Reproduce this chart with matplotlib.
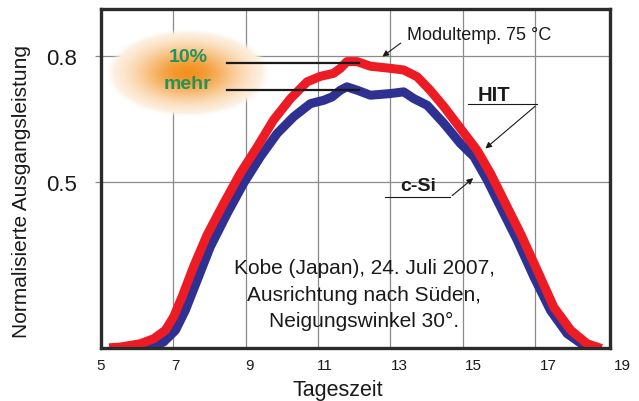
import numpy as np
import matplotlib
matplotlib.use('Agg')
import matplotlib.pyplot as plt

plt.rcParams['font.family'] = ['Liberation Sans', 'DejaVu Sans']

# Werte
hit_x = [5.35, 5.53, 6.09, 6.46, 6.78, 7.01, 7.24, 7.56, 7.93, 8.39, 8.85, 9.32, 9.77,
         10.24, 10.70, 11.07, 11.43, 11.62, 11.80, 12.08, 12.45, 13.00, 13.37, 13.74,
         14.10, 14.48, 14.94, 15.40, 15.77, 16.14, 16.60, 17.06, 17.52, 17.99, 18.44,
         18.72]
hit_y = [0.106, 0.107, 0.115, 0.127, 0.147, 0.179, 0.226, 0.298, 0.373, 0.448, 0.520,
         0.583, 0.647, 0.698, 0.738, 0.751, 0.758, 0.770, 0.786, 0.786, 0.775, 0.770,
         0.766, 0.750, 0.718, 0.679, 0.627, 0.575, 0.520, 0.456, 0.377, 0.290, 0.202,
         0.147, 0.115, 0.107]

csi_x = [6.0, 6.36, 6.73, 7.06, 7.33, 7.66, 8.02, 8.49, 8.94, 9.41, 9.87, 10.33, 10.79,
         11.16, 11.39, 11.62, 11.80, 12.08, 12.45, 13.00, 13.37, 13.65, 14.02, 14.48,
         14.94, 15.31, 15.68, 16.05, 16.51, 16.97, 17.43, 17.89, 18.35]
csi_y = [0.106, 0.107, 0.119, 0.147, 0.194, 0.266, 0.345, 0.425, 0.496, 0.560, 0.615,
         0.655, 0.686, 0.694, 0.702, 0.718, 0.726, 0.718, 0.706, 0.710, 0.714, 0.698,
         0.682, 0.639, 0.591, 0.560, 0.504, 0.440, 0.361, 0.274, 0.194, 0.139, 0.111]

hours = [5, 7, 9, 11, 13, 15, 17, 19]
grid_hours = [7, 9, 11, 13, 15, 17]
y_ticks = [0.5, 0.8]
hit_peak = 0.782
csi_peak = 0.718

red = '#ed1c24'
blue = '#2e3192'
green = '#23935a'
txt = '#1a1a1a'

fig = plt.figure(figsize=(6.39, 4.02), dpi=100)
ax = fig.add_axes([0.158, 0.132, 0.797, 0.842])
ax.set_xlim(5, 19.08)
ax.set_ylim(0.105, 0.91)

# Gitter
for h in grid_hours:
    ax.axvline(h, color='#8a8a8a', lw=0.9, zorder=1)
for v in y_ticks:
    ax.axhline(v, color='#8a8a8a', lw=0.9, zorder=1)

# orange Wolke "10% mehr"
nx, ny = 300, 160
gx, gy = np.meshgrid(np.linspace(-1, 1, nx), np.linspace(-1, 1, ny))
r = np.sqrt(gx**2 + gy**2)
f = np.exp(-2.4 * r**2)
orange = np.array([0.95, 0.57, 0.13])
img = np.ones((ny, nx, 4))
for k in range(3):
    img[:, :, k] = 1 - f * (1 - orange[k])
img[:, :, 3] = np.clip((1 - r) * 10, 0, 1)
ax.imshow(img, extent=(5.14, 9.67, 0.655, 0.862), aspect='auto', zorder=2,
          interpolation='bilinear')
ax.text(7.4, 0.797, '10%', color=green, fontsize=14, fontweight='bold',
        ha='center', va='center', zorder=3)
ax.text(7.4, 0.734, 'mehr', color=green, fontsize=14, fontweight='bold',
        ha='center', va='center', zorder=3)

# Kurven
ax.plot(csi_x, csi_y, color=blue, lw=6.5, solid_joinstyle='round', zorder=4)
ax.plot(hit_x, hit_y, color=red, lw=6.5, solid_joinstyle='round', zorder=5)

# Referenzlinien der Maxima
ax.plot([8.49, 12.14], [hit_peak, hit_peak], color=txt, lw=1.6, zorder=6)
ax.plot([8.49, 12.14], [csi_peak, csi_peak], color=txt, lw=1.6, zorder=6)

arrow = dict(arrowstyle='-|>', color=txt, lw=0.8, mutation_scale=9)
ax.text(13.47, 0.851, 'Modultemp. 75 °C', fontsize=13, color=txt, va='center')
ax.annotate('', xy=(12.72, 0.794), xytext=(13.35, 0.834), arrowprops=arrow, zorder=6)

ax.text(15.87, 0.707, 'HIT', fontsize=14.5, fontweight='bold', color=txt,
        ha='center', va='center')
ax.plot([15.15, 17.06], [0.684, 0.684], color=txt, lw=0.8)
ax.annotate('', xy=(15.57, 0.575), xytext=(17.06, 0.684), arrowprops=arrow, zorder=6)

ax.text(13.77, 0.491, 'c-Si', fontsize=14, fontweight='bold', color=txt,
        ha='center', va='center')
ax.plot([12.86, 14.65], [0.463, 0.463], color=txt, lw=0.8)
ax.annotate('', xy=(15.35, 0.513), xytext=(14.65, 0.463), arrowprops=arrow, zorder=6)

ax.text(12.28, 0.233, 'Kobe (Japan), 24. Juli 2007,\nAusrichtung nach Süden,\nNeigungswinkel 30°.',
        fontsize=15, color=txt, ha='center', va='center', linespacing=1.5, zorder=6)

# Achsen
for s in ax.spines.values():
    s.set_linewidth(2.4)
    s.set_color('#2b2b2b')
    s.set_zorder(7)

# Beschriftungen der x-Achse liegen im Original leicht gestreckt (19 rechts ausserhalb)
ax.set_xticks([])
for h in hours:
    ax.text(5 + (h - 5) * 1.03, -0.05, str(h), fontsize=11, color=txt, ha='center',
            va='center', transform=ax.get_xaxis_transform(), clip_on=False)
ax.set_yticks(y_ticks)
ax.set_yticklabels(['0.5', '0.8'], fontsize=16, color=txt)
ax.tick_params(axis='y', length=4, width=0.9, color='#8a8a8a', pad=13)

fig.text(338 / 639, 1 - 391 / 402, 'Tageszeit', fontsize=15.5, color=txt,
         ha='center', va='center')
fig.text(22 / 639, 1 - 192 / 402, 'Normalisierte Ausgangsleistung', fontsize=15,
         color=txt, ha='center', va='center', rotation=90)

fig.savefig('out.png', dpi=100)
